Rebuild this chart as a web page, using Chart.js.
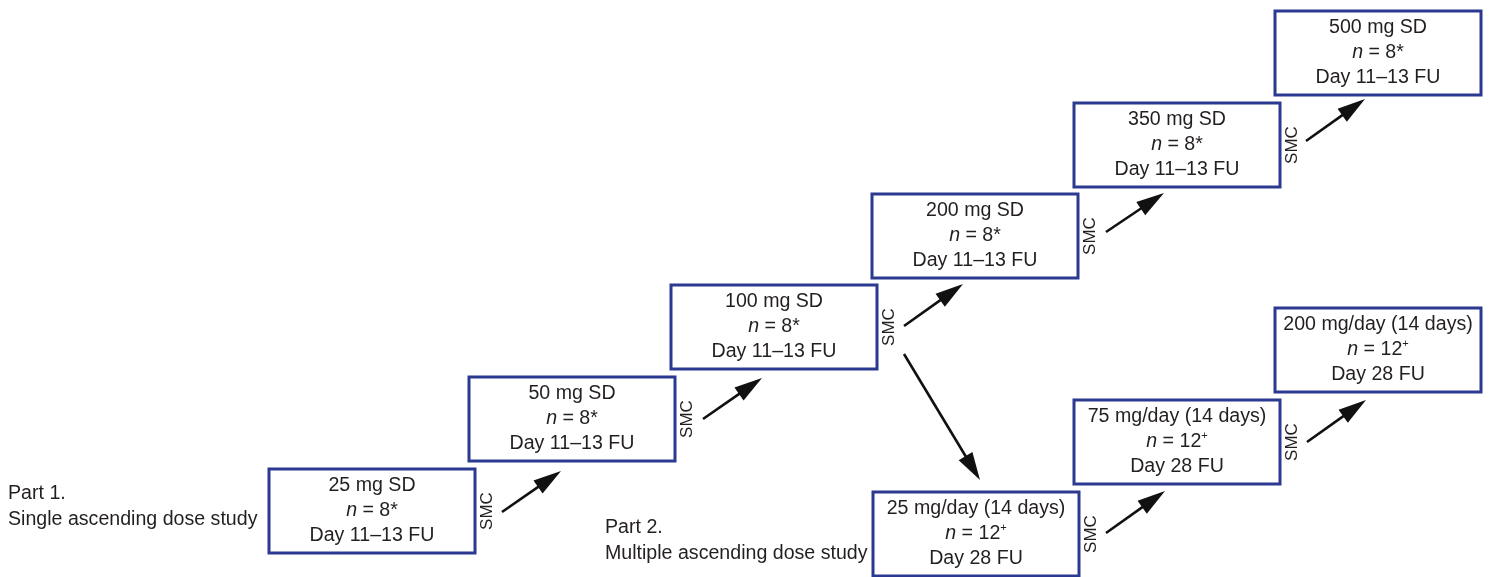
<!DOCTYPE html>
<html>
<head>
<meta charset="utf-8">
<script src="https://cdn.jsdelivr.net/npm/chart.js@4/dist/chart.umd.min.js"></script>
<style>
  html, body { margin: 0; padding: 0; background: #fff; }
  #wrap { width: 1494px; height: 577px; }
</style>
</head>
<body>
<div id="wrap"><canvas id="flowChart" width="1494" height="577"></canvas></div>
<script>
// box contents
const doseLabels = ['25 mg SD', '50 mg SD', '100 mg SD', '200 mg SD', '350 mg SD', '500 mg SD',
                    '25 mg/day (14 days)', '75 mg/day (14 days)', '200 mg/day (14 days)'];
const nValues = ['8', '8', '8', '8', '8', '8', '12', '12', '12'];
const nMarks = ['*', '*', '*', '*', '*', '*', '+', '+', '+'];
const followUp = ['Day 11–13 FU', 'Day 11–13 FU', 'Day 11–13 FU', 'Day 11–13 FU', 'Day 11–13 FU',
                  'Day 11–13 FU', 'Day 28 FU', 'Day 28 FU', 'Day 28 FU'];
// box top-left corner in diagram units
const boxLeft = [269, 469, 671, 872, 1074, 1275, 873, 1074, 1275];
const boxTop = [469, 377, 285, 194, 103, 11, 492, 400, 308];
// boxes followed by a safety monitoring committee review
const smcAfter = [0, 1, 2, 3, 4, 6, 7];
// arrows
const arrowX0 = [502, 703, 904, 904, 1106, 1306, 1106, 1307];
const arrowY0 = [512, 419, 326, 354, 232, 141, 533, 442];
const arrowX1 = [561, 762, 963, 980, 1164, 1365, 1165, 1366];
const arrowY1 = [471, 378, 284, 480, 193, 99, 491, 400];
// part captions
const partTitles = ['Part 1.', 'Part 2.'];
const partNames = ['Single ascending dose study', 'Multiple ascending dose study'];
const partX = [8, 605];
const partY = [494, 528];

const FONT = '"Liberation Sans", Arial, Helvetica, sans-serif';
const TEXT = '#231f20';
const NAVY = '#2b3990';
const BOX_W = 206, BOX_H = 84;
const FS = 19.6;

const flowPlugin = {
    id: 'flowDiagram',
    afterDatasetsDraw(chart) {
        const ctx = chart.ctx;
        const xs = chart.scales.x, ys = chart.scales.y;
        const px = v => xs.getPixelForValue(v);
        const py = v => ys.getPixelForValue(v);
        ctx.save();

        // boxes
        doseLabels.forEach((label, i) => {
            const l = px(boxLeft[i]), r = px(boxLeft[i] + BOX_W);
            const t = py(boxTop[i]), b = py(boxTop[i] + BOX_H);
            ctx.strokeStyle = NAVY;
            ctx.lineWidth = 3;
            ctx.strokeRect(l, t, r - l, b - t);

            const cx = (l + r) / 2, cy = (t + b) / 2;
            ctx.fillStyle = TEXT;
            ctx.textBaseline = 'middle';
            ctx.textAlign = 'center';
            ctx.font = FS + 'px ' + FONT;
            ctx.fillText(label, cx, cy - 25);
            ctx.fillText(followUp[i], cx, cy + 25);

            // middle line: italic n, value, mark
            const segs = [
                { t: 'n', f: 'italic ' + FS + 'px ' + FONT, dy: 0 },
                { t: ' = ' + nValues[i], f: FS + 'px ' + FONT, dy: 0 },
                nMarks[i] === '+' ? { t: '+', f: '11px ' + FONT, dy: -6 } : { t: '*', f: FS + 'px ' + FONT, dy: 0 }
            ];
            let w = 0;
            segs.forEach(s => { ctx.font = s.f; s.w = ctx.measureText(s.t).width; w += s.w; });
            let x = cx - w / 2;
            ctx.textAlign = 'left';
            segs.forEach(s => { ctx.font = s.f; ctx.fillText(s.t, x, cy + s.dy); x += s.w; });
        });

        // SMC labels
        ctx.font = '17px ' + FONT;
        ctx.textAlign = 'center';
        ctx.textBaseline = 'middle';
        smcAfter.forEach(i => {
            const x = px(boxLeft[i] + BOX_W + 12);
            const y = py(boxTop[i] + BOX_H / 2);
            ctx.save();
            ctx.translate(x, y);
            ctx.rotate(-Math.PI / 2);
            ctx.fillText('SMC', 0, 0);
            ctx.restore();
        });

        // arrows
        ctx.strokeStyle = '#111';
        ctx.fillStyle = '#111';
        arrowX0.forEach((x0v, i) => {
            const x0 = px(x0v), y0 = py(arrowY0[i]);
            const x1 = px(arrowX1[i]), y1 = py(arrowY1[i]);
            const ang = Math.atan2(y1 - y0, x1 - x0);
            const hl = 28, hw = 8;
            const bx = x1 - hl * Math.cos(ang), by = y1 - hl * Math.sin(ang);
            ctx.lineWidth = 2.6;
            ctx.beginPath();
            ctx.moveTo(x0, y0);
            ctx.lineTo(bx + 2 * Math.cos(ang), by + 2 * Math.sin(ang));
            ctx.stroke();
            ctx.beginPath();
            ctx.moveTo(x1, y1);
            ctx.lineTo(bx + hw * Math.sin(ang), by - hw * Math.cos(ang));
            ctx.lineTo(bx - hw * Math.sin(ang), by + hw * Math.cos(ang));
            ctx.closePath();
            ctx.fill();
        });

        // part captions
        ctx.fillStyle = TEXT;
        ctx.font = FS + 'px ' + FONT;
        ctx.textAlign = 'left';
        ctx.textBaseline = 'middle';
        partTitles.forEach((t, i) => {
            ctx.fillText(t, px(partX[i]), py(partY[i]));
            ctx.fillText(partNames[i], px(partX[i]), py(partY[i] + 26));
        });
        ctx.restore();
    }
};

new Chart(document.getElementById('flowChart'), {
    type: 'scatter',
    data: { datasets: [{ data: [], pointRadius: 0 }] },
    options: {
        responsive: false,
        animation: false,
        layout: { padding: 0 },
        scales: {
            x: { type: 'linear', min: 0, max: 1494, display: false },
            y: { type: 'linear', min: 0, max: 577, reverse: true, display: false }
        },
        plugins: { legend: { display: false }, tooltip: { enabled: false } }
    },
    plugins: [flowPlugin]
});
</script>
</body>
</html>
